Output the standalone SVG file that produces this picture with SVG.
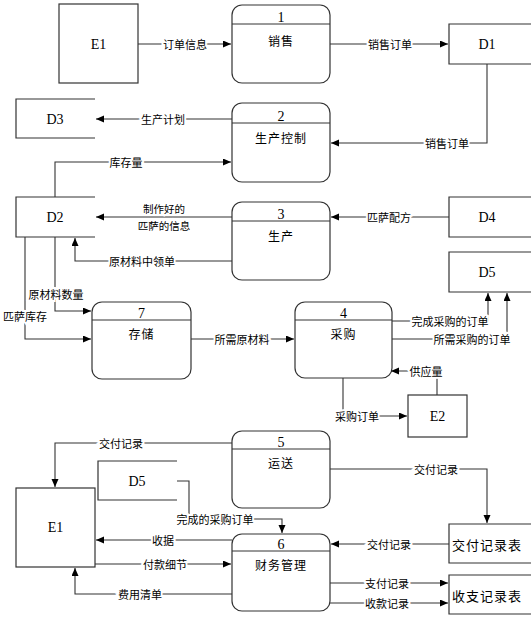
<svg xmlns="http://www.w3.org/2000/svg" width="531" height="617" viewBox="0 0 531 617">
<style>
.box{fill:#fff;stroke:#333;stroke-width:1.2}
.ds{fill:none;stroke:#333;stroke-width:1.2}
.hd{stroke:#333;stroke-width:1}
.c{fill:none;stroke:#333;stroke-width:1.1}
.lat{font-family:'Liberation Serif','Times New Roman',serif;font-size:14px;fill:#000;text-anchor:middle;dominant-baseline:central}
.zh{font-family:'Noto Sans CJK SC',sans-serif;font-size:12px;letter-spacing:1px;fill:#000;text-anchor:middle;dominant-baseline:central}
.zhb{font-family:'Noto Sans CJK SC',sans-serif;font-size:13px;letter-spacing:1px;fill:#000;text-anchor:middle;dominant-baseline:central}
.lb{font-family:'Noto Sans CJK SC',sans-serif;font-size:11px;fill:#000;text-anchor:middle;dominant-baseline:central;stroke:#fff;stroke-width:4;paint-order:stroke}
</style>
<defs>
<marker id="a" markerWidth="9" markerHeight="8" refX="8" refY="3.5" orient="auto" markerUnits="userSpaceOnUse">
<path d="M0,0 L8,3.5 L0,7 z" fill="#000"/>
</marker>
</defs>
<g id="E1top"><rect class="box" x="59" y="4" width="79" height="79"/><text class="lat" x="98.5" y="44">E1</text></g>
<g id="P1"><rect class="box" x="232" y="5" width="98" height="78" rx="10"/><line class="hd" x1="232" y1="24" x2="330" y2="24"/><text class="lat" x="281" y="17">1</text><text class="zh" x="281" y="40">销售</text></g>
<g id="D1"><path class="ds" d="M531,24 H449 V64 H531"/><text class="lat" x="487" y="44">D1</text></g>
<g id="D3"><path class="ds" d="M95,99 H16 V138 H95"/><text class="lat" x="55" y="119">D3</text></g>
<g id="P2"><rect class="box" x="232" y="103" width="98" height="79" rx="10"/><line class="hd" x1="232" y1="123" x2="330" y2="123"/><text class="lat" x="281" y="116">2</text><text class="zh" x="281" y="137">生产控制</text></g>
<g id="D2"><path class="ds" d="M95,197 H16 V237 H95"/><text class="lat" x="55" y="217">D2</text></g>
<g id="P3"><rect class="box" x="232" y="202" width="98" height="78" rx="10"/><line class="hd" x1="232" y1="221" x2="330" y2="221"/><text class="lat" x="281" y="214">3</text><text class="zh" x="281" y="235">生产</text></g>
<g id="D4"><path class="ds" d="M531,197 H449 V237 H531"/><text class="lat" x="487" y="217">D4</text></g>
<g id="D5top"><path class="ds" d="M531,252 H449 V292 H531"/><text class="lat" x="487" y="272">D5</text></g>
<g id="P7"><rect class="box" x="92" y="302" width="99" height="77" rx="10"/><line class="hd" x1="92" y1="320" x2="191" y2="320"/><text class="lat" x="141.5" y="313">7</text><text class="zh" x="141.5" y="333">存储</text></g>
<g id="P4"><rect class="box" x="295" y="302" width="97" height="76" rx="10"/><line class="hd" x1="295" y1="320" x2="392" y2="320"/><text class="lat" x="343.5" y="313">4</text><text class="zh" x="343.5" y="333">采购</text></g>
<g id="E2"><rect class="box" x="408" y="395" width="59" height="42"/><text class="lat" x="437.5" y="416">E2</text></g>
<g id="P5"><rect class="box" x="232" y="431" width="98" height="77" rx="10"/><line class="hd" x1="232" y1="449" x2="330" y2="449"/><text class="lat" x="281" y="442">5</text><text class="zh" x="281" y="462">运送</text></g>
<g id="D5bot"><path class="ds" d="M177,461 H98 V500 H177"/><text class="lat" x="137" y="481">D5</text></g>
<g id="E1bot"><rect class="box" x="16" y="488" width="79" height="79"/><text class="lat" x="55.5" y="527">E1</text></g>
<g id="P6"><rect class="box" x="232" y="534" width="98" height="77" rx="10"/><line class="hd" x1="232" y1="551" x2="330" y2="551"/><text class="lat" x="281" y="544">6</text><text class="zh" x="281" y="564">财务管理</text></g>
<g id="JFJLB"><path class="ds" d="M531,524 H449 V563 H531"/><text class="zhb" x="487" y="544">交付记录表</text></g>
<g id="SZJLB"><path class="ds" d="M531,575 H449 V614 H531"/><text class="zhb" x="487" y="595">收支记录表</text></g>
<g id="connectors">
<path class="c" d="M138,44 H231" marker-end="url(#a)"/>
<path class="c" d="M330,44 H448" marker-end="url(#a)"/>
<path class="c" d="M487,64 V143 H331" marker-end="url(#a)"/>
<path class="c" d="M232,119 H96" marker-end="url(#a)"/>
<path class="c" d="M55,197 V162 H231" marker-end="url(#a)"/>
<path class="c" d="M232,217 H96" marker-end="url(#a)"/>
<path class="c" d="M232,261 H75 V238" marker-end="url(#a)"/>
<path class="c" d="M449,217 H331" marker-end="url(#a)"/>
<path class="c" d="M55,237 V311 H91" marker-end="url(#a)"/>
<path class="c" d="M25,237 V339 H91" marker-end="url(#a)"/>
<path class="c" d="M191,339 H294" marker-end="url(#a)"/>
<path class="c" d="M392,321 H488 V293" marker-end="url(#a)"/>
<path class="c" d="M392,339 H507 V293" marker-end="url(#a)"/>
<path class="c" d="M437,395 V371 H391" marker-end="url(#a)"/>
<path class="c" d="M343,378 V416 H407" marker-end="url(#a)"/>
<path class="c" d="M232,443 H55 V487" marker-end="url(#a)"/>
<path class="c" d="M177,481 H189 V519 H282 V533" marker-end="url(#a)"/>
<path class="c" d="M232,540 H96" marker-end="url(#a)"/>
<path class="c" d="M95,564 H231" marker-end="url(#a)"/>
<path class="c" d="M232,594 H75 V568" marker-end="url(#a)"/>
<path class="c" d="M330,469 H487 V523" marker-end="url(#a)"/>
<path class="c" d="M449,544 H331" marker-end="url(#a)"/>
<path class="c" d="M330,583 H448" marker-end="url(#a)"/>
<path class="c" d="M330,603 H448" marker-end="url(#a)"/>
<text class="lb" x="185" y="44">订单信息</text>
<text class="lb" x="390" y="44">销售订单</text>
<text class="lb" x="447" y="143">销售订单</text>
<text class="lb" x="163" y="119">生产计划</text>
<text class="lb" x="126" y="162">库存量</text>
<text class="lb" style="font-size:10.5px" x="164" y="208.5">制作好的</text>
<text class="lb" style="font-size:10.5px" x="164" y="225">匹萨的信息</text>
<text class="lb" x="142" y="261">原材料中领单</text>
<text class="lb" x="389" y="217">匹萨配方</text>
<text class="lb" x="56" y="294">原材料数量</text>
<text class="lb" x="25" y="316">匹萨库存</text>
<text class="lb" x="242" y="339">所需原材料</text>
<text class="lb" x="450" y="321">完成采购的订单</text>
<text class="lb" x="472" y="339">所需采购的订单</text>
<text class="lb" x="426" y="371">供应量</text>
<text class="lb" x="357" y="416">采购订单</text>
<text class="lb" x="121" y="443">交付记录</text>
<text class="lb" x="215" y="519">完成的采购订单</text>
<text class="lb" x="163" y="540">收据</text>
<text class="lb" x="165" y="564">付款细节</text>
<text class="lb" x="140" y="594">费用清单</text>
<text class="lb" x="436" y="469">交付记录</text>
<text class="lb" x="389" y="544">交付记录</text>
<text class="lb" x="387" y="583">支付记录</text>
<text class="lb" x="387" y="603">收款记录</text>
</g>
</svg>
